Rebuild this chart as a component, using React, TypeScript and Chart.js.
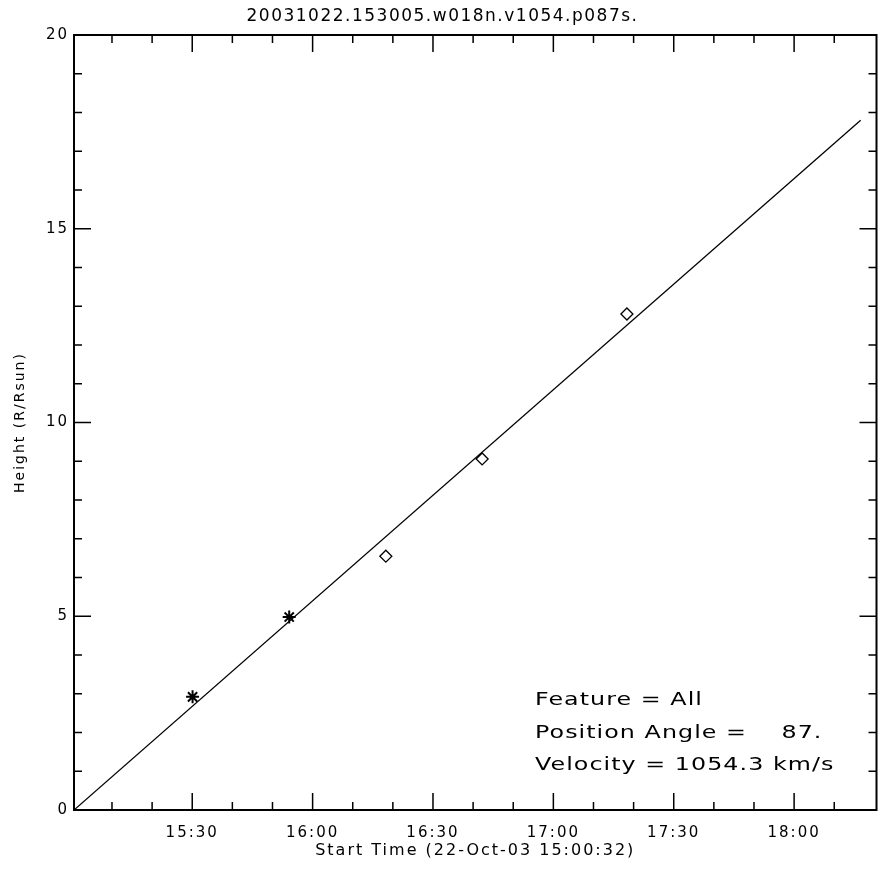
import { useEffect, useRef } from 'react';
import { Chart, registerables } from 'chart.js';

Chart.register(...registerables);

// Height-time measurements of the CME front (LASCO C2 = asterisks, C3 = diamonds)
const startTime = '15:00:32';
const axisEndTime = '18:20:32';
const c2Times = ['15:30:05', '15:54:10'];
const c2Heights = [2.92, 4.98];
const c3Times = ['16:18:15', '16:42:15', '17:18:20'];
const c3Heights = [6.55, 9.06, 12.8];

// Linear fit through the measurements
const fitTimes = ['15:00:32', '18:16:35'];
const fitHeights = [0, 17.8];

// Axis ticks
const xTickLabels = ['15:30', '16:00', '16:30', '17:00', '17:30', '18:00'];
const xMinorTicks = ['15:10', '15:20', '15:40', '15:50', '16:10', '16:20', '16:40', '16:50', '17:10', '17:20', '17:40', '17:50', '18:10'];
const yTickValues = [0, 5, 10, 15, 20];
const yMinorTicks = [1, 2, 3, 4, 6, 7, 8, 9, 11, 12, 13, 14, 16, 17, 18, 19];

const titleText = '20031022.153005.w018n.v1054.p087s.';
const xTitle = 'Start Time (22-Oct-03 15:00:32)';
const yTitle = 'Height (R/Rsun)';
const infoLines = ['Feature = All', 'Position Angle =    87.', 'Velocity = 1054.3 km/s'];

const FONT = '"DejaVu Sans", sans-serif';

function clockSeconds(t: string): number {
  const parts = t.split(':').map(Number);
  return parts[0] * 3600 + parts[1] * 60 + (parts[2] || 0);
}
const t0 = clockSeconds(startTime);
const toSec = (t: string) => clockSeconds(t) - t0;

const framePlugin = {
  id: 'idlFrame',
  beforeDraw(chart: any) {
    chart.ctx.letterSpacing = '2px';
  },
  afterDraw(chart: any) {
    const { ctx, chartArea: a, scales, width } = chart;
    const x = scales.x;
    const y = scales.y;
    ctx.save();
    ctx.strokeStyle = '#000';
    ctx.lineWidth = 2;
    ctx.strokeRect(a.left, a.top, a.right - a.left, a.bottom - a.top);

    ctx.lineWidth = 1.5;
    ctx.beginPath();
    const xTick = (v: number, len: number) => {
      const px = x.getPixelForValue(v);
      ctx.moveTo(px, a.bottom);
      ctx.lineTo(px, a.bottom - len);
      ctx.moveTo(px, a.top);
      ctx.lineTo(px, a.top + len);
    };
    const yTick = (v: number, len: number) => {
      const py = y.getPixelForValue(v);
      ctx.moveTo(a.left, py);
      ctx.lineTo(a.left + len, py);
      ctx.moveTo(a.right, py);
      ctx.lineTo(a.right - len, py);
    };
    xTickLabels.forEach((l) => xTick(toSec(l + ':00'), 17));
    xMinorTicks.forEach((l) => xTick(toSec(l + ':00'), 8));
    yTickValues.forEach((v) => yTick(v, 17));
    yMinorTicks.forEach((v) => yTick(v, 8));
    ctx.stroke();

    // plot title, centred on the page
    ctx.fillStyle = '#000';
    ctx.font = '17px ' + FONT;
    ctx.letterSpacing = '1.5px';
    ctx.textAlign = 'center';
    ctx.textBaseline = 'middle';
    ctx.fillText(titleText, width / 2, 17);

    // fit summary, in a wide lettering
    ctx.font = '18px ' + FONT;
    ctx.letterSpacing = '0.8px';
    ctx.textAlign = 'left';
    ctx.textBaseline = 'alphabetic';
    const baselines = [705, 738, 770];
    const stretch = 1.32;
    infoLines.forEach((line, i) => {
      ctx.save();
      ctx.translate(535, baselines[i]);
      ctx.scale(stretch, 1);
      ctx.fillText(line, 0, 0);
      ctx.restore();
    });
    ctx.restore();
  },
};

export default function App() {
  const canvasRef = useRef<HTMLCanvasElement | null>(null);

  useEffect(() => {
    const canvas = canvasRef.current;
    if (!canvas) return;
    const chart = new Chart(canvas, {
      type: 'scatter',
      data: {
        datasets: [
          {
            label: 'fit',
            data: fitTimes.map((t, i) => ({ x: toSec(t), y: fitHeights[i] })),
            showLine: true,
            borderColor: '#000',
            borderWidth: 1.3,
            pointRadius: 0,
          },
          {
            label: 'C2',
            data: c2Times.map((t, i) => ({ x: toSec(t), y: c2Heights[i] })),
            pointStyle: 'star',
            pointRadius: 6.5,
            borderColor: '#000',
            backgroundColor: '#000',
            borderWidth: 2,
          },
          {
            label: 'C3',
            data: c3Times.map((t, i) => ({ x: toSec(t), y: c3Heights[i] })),
            pointStyle: 'rectRot',
            pointRadius: 6,
            borderColor: '#000',
            backgroundColor: 'rgba(0,0,0,0)',
            borderWidth: 1.3,
          },
        ],
      },
      options: {
        animation: false,
        responsive: false,
        devicePixelRatio: 1,
        layout: { padding: { top: 35, right: 2, left: 0, bottom: 0 } },
        plugins: {
          legend: { display: false },
          tooltip: { enabled: false },
          title: { display: false },
        },
        scales: {
          x: {
            type: 'linear',
            min: 0,
            max: toSec(axisEndTime),
            grid: { display: false, drawTicks: false },
            border: { display: false },
            afterBuildTicks: (s: any) => {
              s.ticks = xTickLabels.map((l) => ({ value: toSec(l + ':00') }));
            },
            afterFit: (s: any) => {
              s.height = 60;
            },
            ticks: {
              autoSkip: false,
              maxRotation: 0,
              padding: 14,
              color: '#000',
              font: { family: FONT, size: 15 },
              callback: (_v: any, i: number) => xTickLabels[i],
            },
            title: {
              display: true,
              text: xTitle,
              color: '#000',
              font: { family: FONT, size: 16 },
              padding: { top: 0, bottom: 10 },
            },
          },
          y: {
            type: 'linear',
            min: 0,
            max: 20,
            grid: { display: false, drawTicks: false },
            border: { display: false },
            afterBuildTicks: (s: any) => {
              s.ticks = yTickValues.map((v) => ({ value: v }));
            },
            afterFit: (s: any) => {
              s.width = 74;
            },
            ticks: {
              padding: 5,
              color: '#000',
              font: { family: FONT, size: 15 },
            },
            title: {
              display: true,
              text: yTitle,
              color: '#000',
              font: { family: FONT, size: 14 },
              padding: { top: 12, bottom: 0 },
            },
          },
        },
      },
      plugins: [framePlugin],
    });
    return () => chart.destroy();
  }, []);

  return (
    <div style={{ position: 'fixed', left: 0, top: 0, width: 885, height: 870, background: '#fff' }}>
      <canvas ref={canvasRef} width={885} height={870} />
    </div>
  );
}
